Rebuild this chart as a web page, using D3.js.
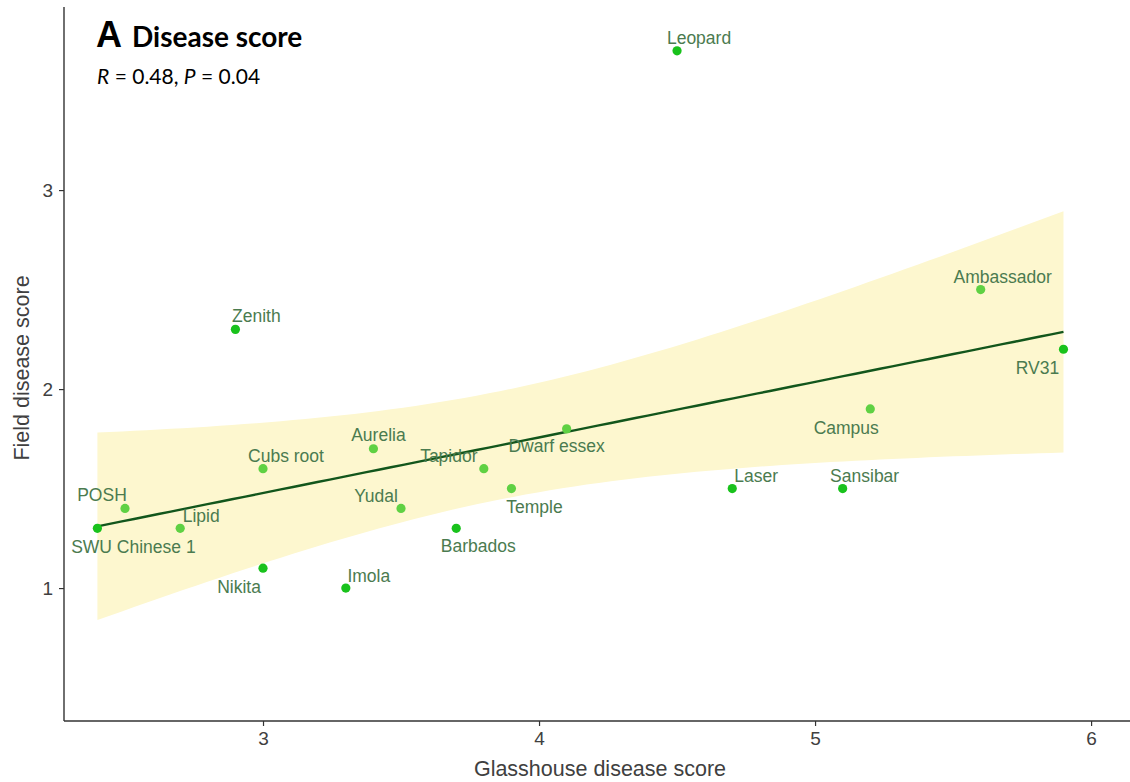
<!DOCTYPE html>
<html>
<head>
<meta charset="utf-8">
<script src="https://cdn.jsdelivr.net/npm/d3@7"></script>
<style>
  html, body { margin: 0; padding: 0; background: #ffffff; }
  svg { display: block; }
</style>
</head>
<body>
<svg id="chart" width="1130" height="782"></svg>
<script>
// Cultivar scores: glasshouse (x) vs field (y)
const cultivars = ["Leopard", "Zenith", "Ambassador", "RV31", "Campus", "Dwarf essex",
  "Aurelia", "Cubs root", "Tapidor", "Temple", "Laser", "Sansibar", "POSH", "Yudal",
  "SWU Chinese 1", "Lipid", "Barbados", "Nikita", "Imola"];
const glasshouse = [4.5, 2.9, 5.6, 5.9, 5.2, 4.1, 3.4, 3.0, 3.8, 3.9, 4.7, 5.1, 2.5, 3.5, 2.4, 2.7, 3.7, 3.0, 3.3];
const field      = [3.7, 2.3, 2.5, 2.2, 1.9, 1.8, 1.7, 1.6, 1.6, 1.5, 1.5, 1.5, 1.4, 1.4, 1.3, 1.3, 1.3, 1.1, 1.0];
const group      = ["a", "a", "b", "a", "b", "b", "b", "b", "b", "b", "a", "a", "b", "b", "a", "b", "a", "a", "a"];
// label placement relative to its point (px), like a repel layout
const labelDx = [22, 21, 22, -26, -24, -10, 5, 23, -35, 23, 24, 22, -23, -25, 36, 21, 22, -24, 23];
const labelDy = [-11, -12, -11, 20, 20, 19, -12, -11, -11, 20, -11, -11, -12, -11, 20, -11, 19, 20, -11];
const xTicks = [3, 4, 5, 6];
const yTicks = [1, 2, 3];

const svg = d3.select("#chart");
const plotLeft = 64, plotRight = 1130, plotTop = 7, plotBottom = 721;

const x = d3.scaleLinear().domain([2.279, 6.141]).range([plotLeft, plotRight]);
const y = d3.scaleLinear().domain([0.332, 3.920]).range([plotBottom, plotTop]);

const pts = cultivars.map((name, i) => ({ name, gx: glasshouse[i], fy: field[i], g: group[i], dx: labelDx[i], dy: labelDy[i] }));

// linear fit with 95% confidence band
const n = pts.length;
const mx = d3.mean(pts, d => d.gx), my = d3.mean(pts, d => d.fy);
const sxx = d3.sum(pts, d => (d.gx - mx) ** 2);
const sxy = d3.sum(pts, d => (d.gx - mx) * (d.fy - my));
const syy = d3.sum(pts, d => (d.fy - my) ** 2);
const slope = sxy / sxx, intercept = my - slope * mx;
const sse = syy - slope * sxy;
const s = Math.sqrt(sse / (n - 2));
const tcrit = 2.1098; // t(0.975, df = 17)
const [xmin, xmax] = d3.extent(pts, d => d.gx);
const fit = d3.range(80).map(k => {
  const xv = xmin + (xmax - xmin) * k / 79;
  const yv = intercept + slope * xv;
  const se = s * Math.sqrt(1 / n + (xv - mx) ** 2 / sxx);
  return { xv, yv, lo: yv - tcrit * se, hi: yv + tcrit * se };
});

svg.append("path")
  .datum(fit)
  .attr("fill", "#fdf7cf")
  .attr("d", d3.area().x(d => x(d.xv)).y0(d => y(d.lo)).y1(d => y(d.hi)));

svg.append("path")
  .datum(fit)
  .attr("fill", "none")
  .attr("stroke", "#12561c")
  .attr("stroke-width", 2.4)
  .attr("d", d3.line().x(d => x(d.xv)).y(d => y(d.yv)));

// axes
const xAxis = svg.append("g")
  .attr("transform", `translate(0,${plotBottom})`)
  .call(d3.axisBottom(x).tickValues(xTicks).tickFormat(d3.format("d")).tickSize(5).tickPadding(6));
const yAxis = svg.append("g")
  .attr("transform", `translate(${plotLeft},0)`)
  .call(d3.axisLeft(y).tickValues(yTicks).tickFormat(d3.format("d")).tickSize(5).tickPadding(6));

[xAxis, yAxis].forEach(a => {
  a.select(".domain").attr("stroke", "#333333").attr("stroke-width", 1.4);
  a.selectAll(".tick line").attr("stroke", "#333333").attr("stroke-width", 1.2);
  a.selectAll(".tick text")
    .attr("fill", "#404040")
    .style("font-family", "'Liberation Sans', Arial, sans-serif")
    .style("font-size", "19px");
});
xAxis.select(".domain").attr("d", `M${plotLeft},0H${plotRight}`);
yAxis.select(".domain").attr("d", `M0,${plotTop}V${plotBottom}`);

// points
svg.append("g").selectAll("circle")
  .data(pts)
  .join("circle")
  .attr("cx", d => x(d.gx))
  .attr("cy", d => y(d.fy))
  .attr("r", 4.6)
  .attr("fill", d => d.g === "a" ? "#19c21c" : "#5fd143");

// labels
svg.append("g").selectAll("text")
  .data(pts)
  .join("text")
  .attr("x", d => x(d.gx) + d.dx)
  .attr("y", d => y(d.fy) + d.dy)
  .attr("text-anchor", "middle")
  .attr("dominant-baseline", "middle")
  .attr("fill", "#4b7b4f")
  .style("font-family", "'Liberation Sans', Arial, sans-serif")
  .style("font-size", "17.5px")
  .text(d => d.name);

// axis titles
svg.append("text")
  .attr("x", 600)
  .attr("y", 776)
  .attr("text-anchor", "middle")
  .attr("fill", "#404040")
  .style("font-family", "'Liberation Sans', Arial, sans-serif")
  .style("font-size", "21.5px")
  .text("Glasshouse disease score");

svg.append("text")
  .attr("transform", `translate(29,368) rotate(-90)`)
  .attr("text-anchor", "middle")
  .attr("fill", "#404040")
  .style("font-family", "'Liberation Sans', Arial, sans-serif")
  .style("font-size", "21.5px")
  .text("Field disease score");

// panel title and statistics
const title = svg.append("text")
  .attr("x", 96).attr("y", 47)
  .attr("fill", "#000000");
title.append("tspan")
  .style("font-family", "'Liberation Sans', Arial, sans-serif")
  .style("font-weight", "bold")
  .style("font-size", "36px")
  .text("A");
title.append("tspan")
  .attr("dx", 10)
  .style("font-family", "Lato, sans-serif")
  .style("font-weight", "bold")
  .style("font-size", "28px")
  .text("Disease score");

const stat = svg.append("text")
  .attr("x", 97).attr("y", 84)
  .attr("fill", "#000000")
  .style("font-family", "Lato, sans-serif")
  .style("font-size", "21px");
stat.append("tspan").style("font-style", "italic").text("R");
stat.append("tspan").text(" = 0.48, ");
stat.append("tspan").style("font-style", "italic").text("P");
stat.append("tspan").text(" = 0.04");
</script>
</body>
</html>
